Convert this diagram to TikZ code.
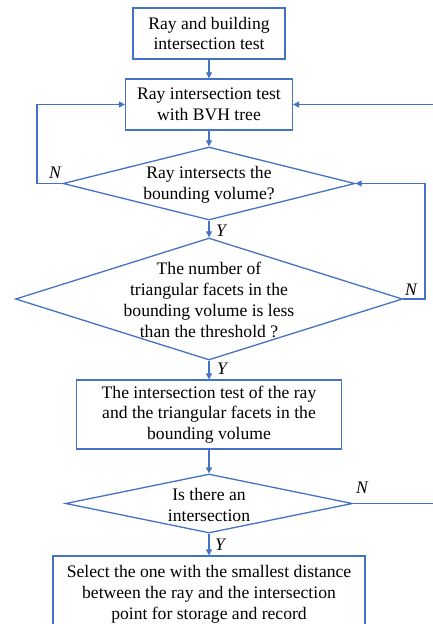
\documentclass[tikz,border=0pt]{standalone}
\usepackage{fontspec}
\setmainfont{Liberation Serif}
\usetikzlibrary{shapes.geometric,arrows.meta}
\definecolor{lineblue}{HTML}{4472C4}
\begin{document}
\begin{tikzpicture}[x=1pt,y=-1pt,
  every node/.style={font=\rmfamily\fontsize{17.6}{20.8}\selectfont, text=black},
  box/.style={draw=lineblue, line width=1.3pt, rectangle, align=center, inner sep=0pt},
  dia/.style={draw=lineblue, line width=1.3pt, diamond, inner sep=0pt},
  txt/.style={align=center, inner sep=0pt},
  lab/.style={inner sep=0pt, font=\rmfamily\fontsize{17.6}{20.8}\selectfont\itshape},
  conn/.style={draw=lineblue, line width=1.1pt},
  arr/.style={conn, -{Triangle[length=6pt,width=6pt]}}]
\useasboundingbox (0,0) rectangle (433,624);
\clip (0,0) rectangle (433,624);
\fill[white] (0,0) rectangle (433,624);
% boxes
\node[box, minimum width=152, minimum height=51] (b1) at (209,33.5) {Ray and building\\intersection test};
\node[box, minimum width=167, minimum height=51] (b2) at (209,104.5) {Ray intersection test\\with BVH tree};
\node[dia, minimum width=292, minimum height=73] (d1) at (209,183.5) {};
\node[txt] (t1) at (209,184.5) {Ray intersects the\\bounding volume?};
\node[dia, minimum width=387, minimum height=122] (d2) at (209,299) {};
\node[txt] (t2) at (209,300) {The number of\\triangular facets in the\\bounding volume is less\\than the threshold ?};
\node[box, minimum width=265, minimum height=69] (b3) at (209,414.5) {The intersection test of the ray\\and the triangular facets in the\\bounding volume};
\node[dia, minimum width=287, minimum height=59] (d3) at (209,503.5) {};
\node[txt] (t3) at (209,505) {Is there an\\intersection};
\node[box, minimum width=312, minimum height=76] (b4) at (209,594) {Select the one with the smallest distance\\between the ray and the intersection\\point for storage and record};
% labels
\node[lab] (n1) at (55,173) {N};
\node[lab] (y1) at (221,231) {Y};
\node[lab] (n2) at (411,290) {N};
\node[lab] (y2) at (222,369) {Y};
\node[lab] (n3) at (362,488) {N};
\node[lab] (y3) at (220,545) {Y};
% coordinates
\coordinate (l1) at (37,183.5);
\coordinate (l2) at (37,104.5);
\coordinate (r1) at (425,299);
\coordinate (r2) at (425,183.5);
\coordinate (e1) at (434,104.5);
\coordinate (e2) at (434,503.5);
% connectors
\draw[arr] (b1.south) -- (b2.north);
\draw[arr] (b2.south) -- (d1.north);
\draw[arr] (d1.south) -- (d2.north);
\draw[arr] (d2.south) -- (b3.north);
\draw[arr] (b3.south) -- (d3.north);
\draw[arr] (d3.south) -- (b4.north);
\draw[arr] (d1.west) -- (l1) -- (l2) -- (b2.west);
\draw[arr] (e1) -- (b2.east);
\draw[arr] (d2.east) -- (r1) -- (r2) -- (d1.east);
\draw[conn] (d3.east) -- (e2);
\end{tikzpicture}
\end{document}
